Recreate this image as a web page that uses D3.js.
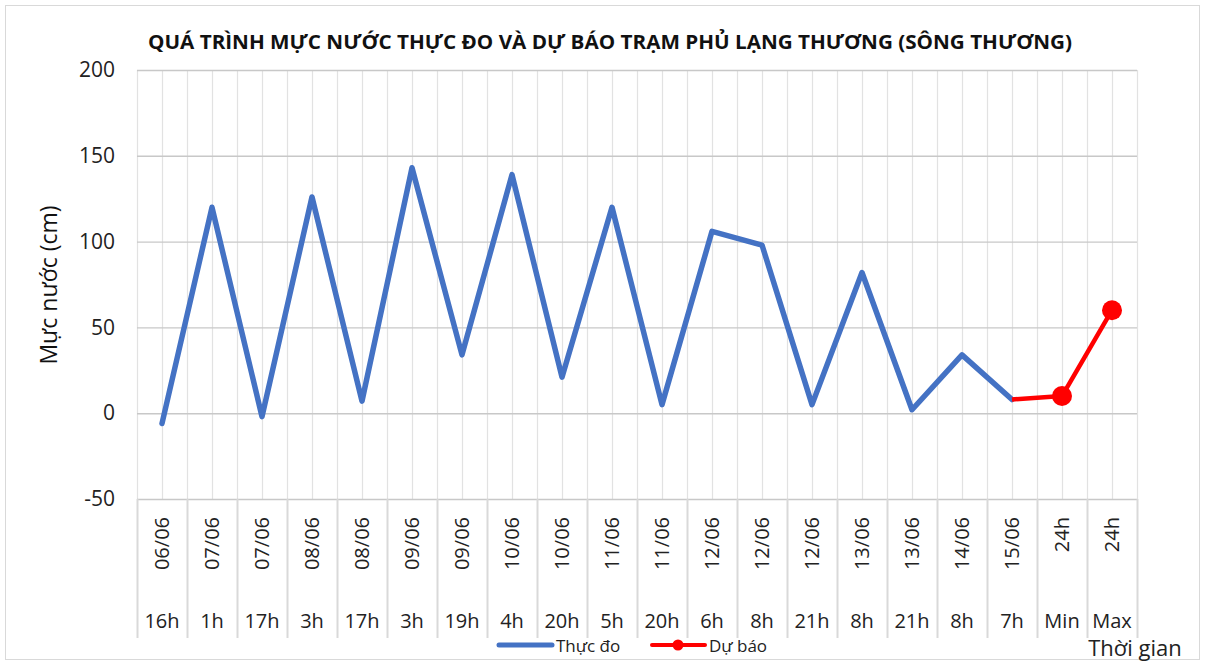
<!DOCTYPE html>
<html>
<head>
<meta charset="utf-8">
<script src="https://cdn.jsdelivr.net/npm/d3@7"></script>
<style>
  body { margin: 0; background: #fff; }
  svg { font-family: "Open Sans", "Noto Sans", sans-serif; }
</style>
</head>
<body>
<svg class="chart"></svg>
<script>
// data
var dates = ["06/06","07/06","07/06","08/06","08/06","09/06","09/06","10/06","10/06","11/06",
             "11/06","12/06","12/06","12/06","13/06","13/06","14/06","15/06","24h","24h"];
var hours = ["16h","1h","17h","3h","17h","3h","19h","4h","20h","5h",
             "20h","6h","8h","21h","8h","21h","8h","7h","Min","Max"];
var thucDo = [-6,120,-2,126,7,143,34,139,21,120,5,106,98,5,82,2,34,8,null,null];
var duBao  = [null,null,null,null,null,null,null,null,null,null,null,null,null,null,null,null,null,8,10,60];
var yTicks = [-50,0,50,100,150,200];

var makeChart = function()
{
  var width = 1206;
  var height = 665;

  var svg = d3.select(".chart")
    .attr("width",width)
    .attr("height",height);

  // outer frame
  svg.append("rect")
    .attr("x",5.5).attr("y",5.5)
    .attr("width",1194).attr("height",654)
    .attr("fill","#fff")
    .attr("stroke","#d9d9d9");

  var pLeft = 137, pRight = 1137, pTop = 70, pBottom = 499;

  var idx = d3.range(dates.length);
  var x = d3.scaleBand().domain(idx).range([pLeft,pRight]).padding(0);
  var y = d3.scaleLinear().domain([-50,200]).range([pBottom,pTop]);
  var bw = x.bandwidth();

  // vertical gridlines at centers and edges
  var vLines = [];
  idx.forEach(function(i){ vLines.push(x(i)); vLines.push(x(i)+bw/2); });
  vLines.push(pRight);

  svg.selectAll(".vgrid")
    .data(vLines)
    .enter()
    .append("line")
    .attr("x1",function(d){return Math.round(d)+0.5;})
    .attr("x2",function(d){return Math.round(d)+0.5;})
    .attr("y1",pTop)
    .attr("y2",pBottom)
    .attr("stroke","#e2e2e2")
    .attr("stroke-width",1.2);

  // horizontal gridlines + y labels
  var yAxis = d3.axisLeft(y)
    .tickValues(yTicks)
    .tickFormat(function(d){return String(d);})
    .tickSize(-(pRight-pLeft))
    .tickPadding(22);
  var gy = svg.append("g")
    .attr("transform","translate("+pLeft+",0)")
    .call(yAxis);
  gy.select(".domain").remove();
  gy.selectAll(".tick line").attr("stroke","#c8c8c8").attr("stroke-width",1.4);
  gy.selectAll(".tick text")
    .attr("font-size","21px")
    .attr("fill","#222")
    .attr("font-family","'Open Sans', sans-serif");

  // category axis separators
  var seps = idx.map(function(i){return x(i);});
  seps.push(pRight);
  svg.selectAll(".sep")
    .data(seps)
    .enter()
    .append("line")
    .attr("x1",function(d){return Math.round(d)+0.5;})
    .attr("x2",function(d){return Math.round(d)+0.5;})
    .attr("y1",pBottom)
    .attr("y2",638)
    .attr("stroke","#d9d9d9")
    .attr("stroke-width",2);

  // rotated date labels
  svg.selectAll(".date")
    .data(dates)
    .enter()
    .append("text")
    .text(function(d){return d;})
    .attr("transform",function(d,i){return "translate("+(x(i)+bw/2+7)+",517) rotate(-90)";})
    .attr("text-anchor","end")
    .attr("font-size","20px")
    .attr("fill","#222");

  // hour labels
  svg.selectAll(".hour")
    .data(hours)
    .enter()
    .append("text")
    .text(function(d){return d;})
    .attr("x",function(d,i){return x(i)+bw/2;})
    .attr("y",628)
    .attr("text-anchor","middle")
    .attr("font-size","20px")
    .attr("fill","#222");

  // lines
  var line = d3.line()
    .defined(function(d){return d!==null;})
    .x(function(d,i){return x(i)+bw/2;})
    .y(function(d){return y(d);});

  svg.append("path")
    .datum(thucDo)
    .attr("d",line)
    .attr("fill","none")
    .attr("stroke","#4472c4")
    .attr("stroke-width",5.5)
    .attr("stroke-linejoin","round")
    .attr("stroke-linecap","round");

  svg.append("path")
    .datum(duBao)
    .attr("d",line)
    .attr("fill","none")
    .attr("stroke","#ff0000")
    .attr("stroke-width",4.5)
    .attr("stroke-linejoin","round");

  svg.selectAll(".mark")
    .data(duBao.map(function(d,i){return {v:d,i:i};}).filter(function(d){return d.v!==null && d.i>=18;}))
    .enter()
    .append("circle")
    .attr("cx",function(d){return x(d.i)+bw/2;})
    .attr("cy",function(d){return y(d.v);})
    .attr("r",10)
    .attr("fill","#ff0000");

  // title
  svg.append("text")
    .text("QUÁ TRÌNH MỰC NƯỚC THỰC ĐO VÀ DỰ BÁO TRẠM PHỦ LẠNG THƯƠNG (SÔNG THƯƠNG)")
    .attr("x",610)
    .attr("y",49)
    .attr("text-anchor","middle")
    .attr("font-size","20px")
    .attr("font-weight","bold")
    .attr("textLength",924)
    .attr("lengthAdjust","spacingAndGlyphs")
    .attr("fill","#111");

  // y axis title
  svg.append("text")
    .text("Mực nước (cm)")
    .attr("transform","translate(57,285) rotate(-90)")
    .attr("text-anchor","middle")
    .attr("font-size","23px")
    .attr("fill","#111");

  // x axis title
  svg.append("text")
    .text("Thời gian")
    .attr("x",1135)
    .attr("y",656)
    .attr("text-anchor","middle")
    .attr("font-size","22px")
    .attr("fill","#222");

  // legend
  svg.append("line")
    .attr("x1",499).attr("x2",552).attr("y1",645).attr("y2",645)
    .attr("stroke","#4472c4").attr("stroke-width",5).attr("stroke-linecap","round");
  svg.append("text")
    .text("Thực đo")
    .attr("x",556).attr("y",652)
    .attr("font-size","17px").attr("fill","#222");
  svg.append("line")
    .attr("x1",652).attr("x2",705).attr("y1",645).attr("y2",645)
    .attr("stroke","#ff0000").attr("stroke-width",4).attr("stroke-linecap","round");
  svg.append("circle")
    .attr("cx",678).attr("cy",645).attr("r",5.5).attr("fill","#ff0000");
  svg.append("text")
    .text("Dự báo")
    .attr("x",709).attr("y",652)
    .attr("font-size","17px").attr("fill","#222");
}

makeChart();
</script>
</body>
</html>
